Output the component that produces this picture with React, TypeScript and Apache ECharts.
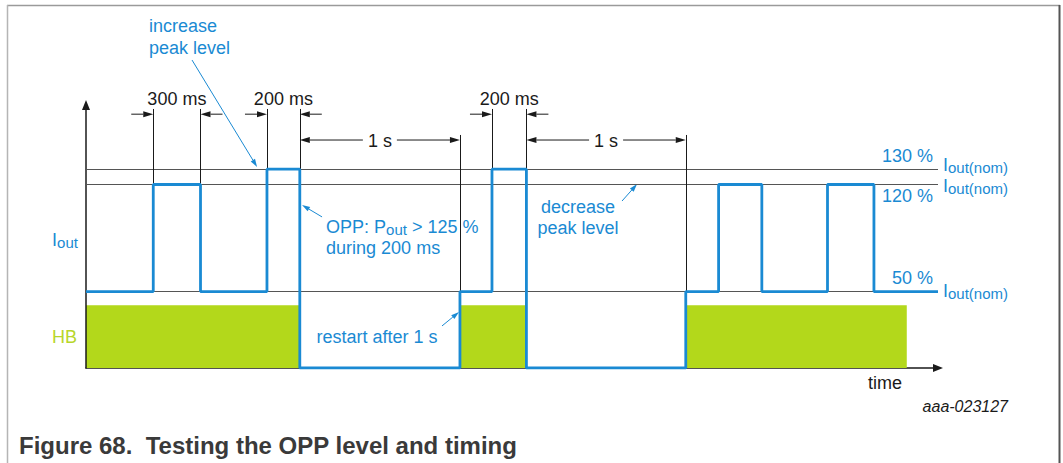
import React, { useEffect, useRef } from "react";
import * as echarts from "echarts";

// ---- data (time in ms, level in % of Iout(nom)) ----
const iOutTimes = [0, 420, 715, 1130, 1335, 2335, 2535, 2750, 3745, 3950, 4220, 4630, 4920, 5320];
const iOutLevels = [50, 120, 50, 130, 0, 50, 130, 0, 50, 120, 50, 120, 50, 50];
const hbTimes = [0, 1335, 2335, 2750, 3745, 5125];
const hbStates = [1, 0, 1, 0, 1, 0];
const hbLevel = 41;
const refLevels = [130, 120, 50];
const refLabels = ["130 %", "120 %", "50 %"];
const timeMax = 5320;
const levelMax = 172;

const markerTimes = [420, 715, 1130, 1335, 2335, 2535, 2750, 3745];
const markerTops = [169.4, 169.4, 169.4, 169.4, 152.4, 169.4, 169.4, 152.4];
const markerBottoms = [120, 120, 130, 130, 50, 130, 130, 50];

const spanFrom = [420, 1130, 2535];
const spanTo = [715, 1335, 2750];
const spanLabels = ["300 ms", "200 ms", "200 ms"];
const waitFrom = [1335, 2750];
const waitTo = [2335, 3745];
const waitLabels = ["1 s", "1 s"];

const BLUE = "#1a8ad3";
const GREEN = "#b3d81b";
const BLACK = "#1a1a1a";
const FONT = '"Liberation Sans", Arial, Helvetica, sans-serif';

function arrow(x1: number, y1: number, x2: number, y2: number, color: string, lw: number, hl: number, hw: number) {
  const dx = x2 - x1, dy = y2 - y1;
  const L = Math.hypot(dx, dy) || 1;
  const ux = dx / L, uy = dy / L;
  const bx = x2 - ux * hl, by = y2 - uy * hl;
  const px = -uy, py = ux;
  return [
    { type: "line", silent: true, shape: { x1, y1, x2: bx, y2: by }, style: { stroke: color, lineWidth: lw } },
    {
      type: "polygon",
      silent: true,
      shape: { points: [[x2, y2], [bx + (px * hw) / 2, by + (py * hw) / 2], [bx - (px * hw) / 2, by - (py * hw) / 2]] },
      style: { fill: color },
    },
  ];
}

function text(x: number, y: number, s: string, o: any = {}) {
  return {
    type: "text",
    silent: true,
    x,
    y,
    style: {
      text: s,
      fill: o.color || BLACK,
      font: `${o.fontStyle || "normal"} ${o.weight || "normal"} ${o.size || 18}px ${FONT}`,
      align: o.align || "left",
      verticalAlign: "middle",
    },
  };
}

function subText(x: number, y: number, parts: [string, boolean][], color: string, align = "left") {
  const str = parts.map(([s, sub]) => `{${sub ? "s" : "m"}|${s}}`).join("");
  return {
    type: "text",
    silent: true,
    x,
    y: y - 9,
    style: {
      text: str,
      align,
      verticalAlign: "top",
      rich: {
        m: { fontSize: 18, fontFamily: FONT, fill: color, lineHeight: 18, verticalAlign: "top" },
        s: { fontSize: 15, fontFamily: FONT, fill: color, lineHeight: 15, padding: [4, 0, 0, 0], verticalAlign: "top" },
      },
    },
  };
}

export default function App() {
  const ref = useRef<HTMLDivElement>(null);
  useEffect(() => {
    const chart = echarts.init(ref.current!, null, { renderer: "svg" });
    const axisLine = () => ({
      show: true,
      onZero: false,
      symbol: ["none", "triangle"],
      symbolSize: [8, 10],
      lineStyle: { color: BLACK, width: 1.5 },
    });
    chart.setOption({
      animation: false,
      backgroundColor: "#ffffff",
      grid: { left: 86, right: 125, top: 105, bottom: 95 },
      xAxis: {
        type: "value",
        min: 0,
        max: timeMax,
        axisLine: axisLine(),
        axisTick: { show: false },
        axisLabel: { show: false },
        splitLine: { show: false },
      },
      yAxis: {
        type: "value",
        min: 0,
        max: levelMax,
        z: 3,
        axisLine: axisLine(),
        axisTick: { show: false },
        axisLabel: { show: false },
        splitLine: { show: false },
      },
      series: [
        {
          type: "line",
          name: "HB",
          data: hbTimes.map((t, i) => [t, hbStates[i] * hbLevel]),
          step: "end",
          symbol: "none",
          lineStyle: { width: 0, opacity: 0 },
          areaStyle: { color: GREEN, opacity: 1 },
          z: 1,
        },
        {
          type: "line",
          name: "ref",
          data: [],
          z: 2,
          markLine: {
            silent: true,
            symbol: ["none", "none"],
            label: { show: false },
            lineStyle: { color: "#555555", width: 1.2, type: "solid" },
            data: refLevels.map((v) => ({ yAxis: v })),
          },
        },
        {
          type: "line",
          name: "markers",
          data: [],
          z: 2,
          markLine: {
            silent: true,
            symbol: ["none", "none"],
            label: { show: false },
            lineStyle: { color: BLACK, width: 1, type: "solid" },
            data: markerTimes.map((t, i) => [{ coord: [t, markerTops[i]] }, { coord: [t, markerBottoms[i]] }]),
          },
        },
        {
          type: "line",
          name: "Iout",
          data: iOutTimes.map((t, i) => [t, iOutLevels[i]]),
          step: "end",
          symbol: "none",
          lineStyle: { color: BLUE, width: 2.8 },
          z: 5,
        },
      ],
    });

    const P = (t: number, v: number) => chart.convertToPixel({ gridIndex: 0 }, [t, v]) as number[];
    const g: any[] = [];
    // frame
    g.push({ type: "line", silent: true, shape: { x1: 7, y1: 5.5, x2: 1060, y2: 5.5 }, style: { stroke: "#9a9a9a", lineWidth: 1.5 } });
    g.push({ type: "line", silent: true, shape: { x1: 7.5, y1: 5, x2: 7.5, y2: 463 }, style: { stroke: "#b5b5b5", lineWidth: 1.5 } });
    g.push({ type: "line", silent: true, shape: { x1: 1059.5, y1: 5, x2: 1059.5, y2: 463 }, style: { stroke: "#555555", lineWidth: 2 } });

    // dimension spans
    const dimV = 166, dimTextV = 175.9, waitV = 149.1;
    spanFrom.forEach((f, i) => {
      const [x1, y] = P(f, dimV);
      const [x2] = P(spanTo[i], dimV);
      g.push(...arrow(x1 - 22, y, x1, y, BLACK, 1, 10, 6));
      g.push(...arrow(x2 + 22, y, x2, y, BLACK, 1, 10, 6));
      const ty = P(f, dimTextV)[1];
      g.push(text((x1 + x2) / 2, ty, spanLabels[i], { align: "center" }));
    });
    waitFrom.forEach((f, i) => {
      const [x1, y] = P(f, waitV);
      const [x2] = P(waitTo[i], waitV);
      const xm = (x1 + x2) / 2;
      g.push(...arrow(xm - 17, y, x1, y, BLACK, 1, 10, 6));
      g.push(...arrow(xm + 17, y, x2, y, BLACK, 1, 10, 6));
      g.push(text(xm, y + 1, waitLabels[i], { align: "center" }));
    });

    // blue leaders
    const leaders = [
      [662, 201.4, 1068, 131.5],
      [1474, 98.8, 1349, 106.6],
      [3347, 109.2, 3441, 120.3],
      [2223, 27.5, 2329, 36.6],
    ];
    leaders.forEach(([t1, v1, t2, v2]) => {
      const [a, b] = P(t1, v1);
      const [c, d] = P(t2, v2);
      g.push(...arrow(a, b, c, d, BLUE, 1, 8, 5));
    });

    // blue notes
    const notes: [number, number, string, string][] = [
      [393, 223.7, "increase", "left"],
      [393, 209.3, "peak level", "left"],
      [1499, 78.5, "during 200 ms", "left"],
      [3072, 105.3, "decrease", "center"],
      [3072, 91.6, "peak level", "center"],
      [1817, 20.3, "restart after 1 s", "center"],
    ];
    notes.forEach(([t, v, s, al]) => {
      const [x, y] = P(t, v);
      g.push(text(x, y, s, { color: BLUE, align: al }));
    });
    {
      const [x, y] = P(1499, 92.2);
      g.push(subText(x, y, [["OPP: P", false], ["out", true], [" > 125 %", false]], BLUE));
    }
    // left labels
    {
      const [x, y] = P(-212, 83.7);
      g.push(subText(x, y, [["I", false], ["out", true]], BLUE));
      const [x2, y2] = P(-212, 20.3);
      g.push(text(x2, y2, "HB", { color: "#b7d62a" }));
    }
    // right labels
    const pctOffsets = [-13.4, 11.5, -13.2];
    const nomOffsets = [-4.4, 1.5, -0.5];
    refLevels.forEach((v, i) => {
      const [xe, y] = P(timeMax, v);
      g.push(text(xe - 5, y + pctOffsets[i], refLabels[i], { color: BLUE, align: "right" }));
      g.push(subText(xe + 5, y + nomOffsets[i], [["I", false], ["out(nom)", true]], BLUE));
    });
    // time label
    {
      const [x, y] = P(4989, -9.8);
      g.push(text(x, y, "time", { align: "center" }));
    }
    g.push(text(1008, 406, "aaa-023127", { align: "right", size: 16, fontStyle: "italic" }));
    g.push(text(19, 445, "Figure 68. \u00a0Testing the OPP level and timing", { size: 24, weight: "bold", color: "#3a3a3a" }));

    chart.setOption({ graphic: g });
    return () => chart.dispose();
  }, []);
  return (
    <div
      ref={ref}
      style={{ position: "absolute", left: 0, top: 0, width: 1063, height: 463, background: "#ffffff" }}
    />
  );
}
